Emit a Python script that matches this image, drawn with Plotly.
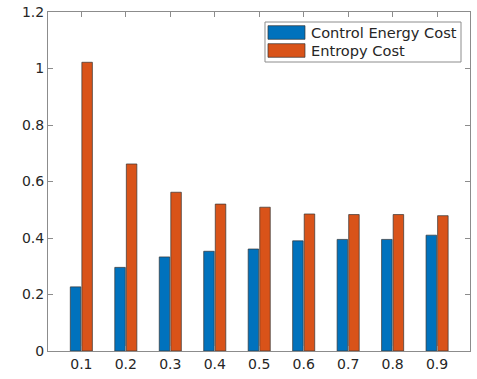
import plotly.graph_objects as go

categories = [0.1, 0.2, 0.3, 0.4, 0.5, 0.6, 0.7, 0.8, 0.9]
tick_labels = ["0.1", "0.2", "0.3", "0.4", "0.5", "0.6", "0.7", "0.8", "0.9"]
control_energy = [0.227, 0.296, 0.333, 0.353, 0.361, 0.390, 0.395, 0.395, 0.410]
entropy_cost = [1.022, 0.662, 0.562, 0.520, 0.509, 0.485, 0.483, 0.483, 0.479]
series_names = ["Control Energy Cost", "Entropy Cost"]
series_colors = ["#0072BD", "#D95319"]

fig = go.Figure()
for vals, name, col in zip([control_energy, entropy_cost], series_names, series_colors):
    fig.add_trace(go.Bar(x=categories, y=vals, name=name, showlegend=False,
                         marker=dict(color=col, line=dict(color="#333333", width=0.7))))

axis_common = dict(showline=True, linecolor="#8c8c8c", linewidth=1, mirror="ticks",
                   ticks="inside", ticklen=5, tickcolor="#8c8c8c", showgrid=False,
                   zeroline=False, automargin=False,
                   tickfont=dict(family="DejaVu Sans", size=14, color="#262626"))

# legend drawn in paper coordinates (MATLAB-style wide patches)
shapes = [dict(type="rect", xref="paper", yref="paper", x0=0.5142, x1=0.9787, y0=0.8525, y1=0.9705,
               line=dict(color="#8c8c8c", width=1), fillcolor="white", layer="above")]
annotations = []
patch_y = [(0.9195, 0.9596), (0.8664, 0.9065)]
for (y0, y1), name, col in zip(patch_y, series_names, series_colors):
    shapes.append(dict(type="rect", xref="paper", yref="paper", x0=0.5213, x1=0.6090, y0=y0, y1=y1,
                       line=dict(color="#333333", width=0.7), fillcolor=col, layer="above"))
    annotations.append(dict(xref="paper", yref="paper", x=0.6185, y=(y0 + y1) / 2, text=name,
                            showarrow=False, xanchor="left", yanchor="middle",
                            font=dict(family="DejaVu Sans", size=14.6, color="#262626")))

fig.update_layout(
    width=477, height=379,
    margin=dict(l=48, r=7, t=12, b=28),
    paper_bgcolor="white", plot_bgcolor="white",
    barmode="group", bargap=0.48, bargroupgap=0.09,
    font=dict(family="DejaVu Sans", size=14, color="#262626"),
    xaxis=dict(range=[0.025, 0.974], tickvals=categories, ticktext=tick_labels, **axis_common),
    yaxis=dict(range=[0, 1.2], tickvals=[0, 0.2, 0.4, 0.6, 0.8, 1.0, 1.2], **axis_common),
    shapes=shapes,
    annotations=annotations,
    showlegend=False,
)

# remove the default page margin so the figure sits at the window origin
fig.write_html("out.html", config={"displayModeBar": False},
               post_script="document.body.style.margin='0';document.body.style.overflow='hidden';")
